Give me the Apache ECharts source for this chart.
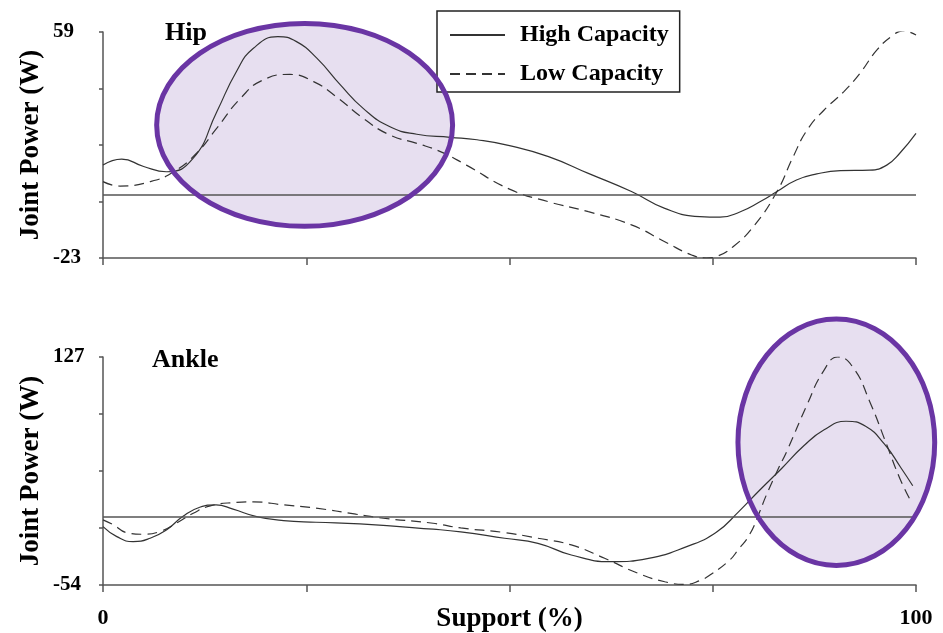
<!DOCTYPE html>
<html>
<head>
<meta charset="utf-8">
<script src="https://cdn.jsdelivr.net/npm/echarts@6/dist/echarts.min.js"></script>
<style>
  html, body { margin: 0; padding: 0; background: #fff; }
  #chart { width: 943px; height: 633px; }
</style>
</head>
<body>
<div id="chart"></div>
<script>
// ---- Data ----
const seriesNames = ['High Capacity', 'Low Capacity'];
const panelTitles = ['Hip', 'Ankle'];
const xTicks = [0, 25, 50, 75, 100];
const xTickLabels = [0, 100];

const hipRange = [-23, 59];
const hipTicks = [-23, -2.5, 18, 38.5, 59];
const hipTickLabels = [-23, 59];
const ankleRange = [-54, 127];
const ankleTicks = [-54, -8.75, 36.5, 81.75, 127];
const ankleTickLabels = [-54, 127];

const hipHigh = [[0,10.7],[2.3,12.9],[5,10.2],[7.8,8.3],[11.1,13.2],[14,30.1],[16.4,44.6],[18.5,53.1],[21.5,57.3],[23.8,55.5],[26.3,49.5],[29.2,39.8],[32,31.3],[35.3,24.6],[38.6,21.9],[42.7,20.8],[46,19.9],[50,17.8],[54.8,13.8],[59.7,7.7],[65,1.1],[69.1,-5.0],[73.4,-8.0],[75.9,-8.2],[78.4,-6.2],[80.8,-2.6],[82.9,1.1],[85.3,5.3],[87.8,7.5],[90.7,8.7],[94.3,8.9],[96.4,10.7],[98,15.0],[100,22.2]];
const hipLow = [[0,4.7],[2.1,3.1],[5.8,4.7],[8.7,8.3],[11.5,15.0],[14,24.1],[16.9,34.9],[19.7,41.6],[23,43.6],[25.9,41.0],[28.7,35.5],[32,27.7],[35.3,21.6],[38.6,18.6],[41.5,15.6],[44.7,10.7],[50,2.0],[54.8,-2.6],[59.7,-6.2],[65,-11.0],[69.1,-17.1],[72.4,-21.9],[74.2,-23],[75.6,-22.3],[77.5,-18.9],[80,-11.6],[82.9,1.1],[84.9,13.8],[86.6,23.4],[88.7,30.7],[91.1,37.3],[93.1,44.0],[95.2,52.5],[97.2,57.9],[98.4,59.4],[100,57.9]];
const ankleHigh = [[0,-7.7],[1.7,-15.6],[3.7,-19.6],[5.8,-16.9],[7.8,-10.3],[9.8,0.3],[11.9,7.7],[13.9,9.6],[16,6.2],[18.9,0.3],[22.2,-2.9],[26.2,-4.2],[31.6,-5.5],[40.6,-9.7],[44,-11.8],[49.4,-16.9],[53.5,-20.9],[57.6,-30.2],[62.5,-35.5],[67.1,-32.8],[71.8,-23.5],[75.4,-12.3],[78.2,4.3],[80.7,20.8],[83.5,38.7],[86.2,56.5],[88.7,69.2],[91.4,76.0],[93.8,72.0],[96.1,58.0],[98.1,39.5],[99.6,24.8]];
const ankleLow = [[0,-2.3],[1.3,-6.3],[2.9,-12.4],[4.9,-13.7],[7,-11.6],[9,-5.0],[11.1,3.0],[13.2,8.8],[16,11.4],[18.5,12.0],[22.2,9.6],[26.2,7.0],[31.1,2.2],[34.5,-1.0],[40.6,-5.0],[44,-8.7],[49.4,-12.4],[53.5,-16.9],[57.6,-22.2],[61.7,-32.8],[65.8,-44.7],[69.1,-51.4],[71.6,-53.5],[73.4,-50.5],[74.8,-45.5],[77.1,-34.1],[78.1,-26.2],[79.5,-14.3],[80.7,3.0],[81.6,17.5],[83.1,38.8],[84.1,52.0],[86.6,89.1],[88.6,115.6],[90.4,127],[92.3,118.3],[94.3,91.7],[96.4,57.3],[98,30.8],[99.4,12.2]];

// highlight ellipses in data units: [centerX, centerY, radiusX, radiusY]
const hipHighlight = [24.8, 25.3, 18.2, 36.8];
const ankleHighlight = [90.2, 59.3, 12.1, 97.8];

// ---- Chart ----
const FONT = '"Liberation Serif", "Times New Roman", serif';
const axisColor = '#555';
const chart = echarts.init(document.getElementById('chart'));

function yAxisFor(gridIndex, range, ticks, labels) {
  return {
    type: 'value', gridIndex: gridIndex, min: range[0], max: range[1],
    name: 'Joint Power (W)', nameLocation: 'middle', nameGap: 58, nameMoveOverlap: false,
    nameTextStyle: { fontFamily: FONT, fontWeight: 'bold', fontSize: 27, color: '#000' },
    axisLine: { show: true, lineStyle: { color: axisColor, width: 1.5 } },
    axisTick: { show: true, length: 4, customValues: ticks, lineStyle: { color: axisColor, width: 1.5 } },
    axisLabel: { customValues: labels, align: 'left', margin: 50, fontFamily: FONT, fontWeight: 'bold', fontSize: 21, color: '#000' },
    splitLine: { show: false }
  };
}
function xAxisFor(gridIndex, showLabels) {
  return {
    type: 'value', gridIndex: gridIndex, min: 0, max: 100,
    name: showLabels ? 'Support (%)' : '', nameLocation: 'middle', nameGap: 21, nameMoveOverlap: false,
    nameTextStyle: { fontFamily: FONT, fontWeight: 'bold', fontSize: 27, color: '#000', verticalAlign: 'top' },
    axisLine: { show: true, onZero: false, lineStyle: { color: axisColor, width: 1.5 } },
    axisTick: { show: true, length: 7, customValues: xTicks, lineStyle: { color: axisColor, width: 1.5 } },
    axisLabel: { show: showLabels, customValues: xTickLabels, margin: 22, fontFamily: FONT, fontWeight: 'bold', fontSize: 22, color: '#000', verticalAlign: 'top' },
    splitLine: { show: false }
  };
}
const zeroLine = {
  silent: true, symbol: ['none', 'none'], label: { show: false },
  lineStyle: { type: 'solid', color: axisColor, width: 1.5 },
  emphasis: { disabled: true },
  data: [{ yAxis: 0 }]
};
function lineSeries(name, data, xi, dashed, withZero) {
  const s = {
    name: name, type: 'line', xAxisIndex: xi, yAxisIndex: xi, data: data,
    smooth: 0.5, symbol: 'none', clip: true,
    lineStyle: { color: '#333', width: 1.2, type: dashed ? [10, 6] : 'solid' },
    itemStyle: { color: '#333' },
    emphasis: { disabled: true }
  };
  if (withZero) s.markLine = zeroLine;
  return s;
}

const option = {
  animation: false,
  backgroundColor: '#fff',
  title: [
    { text: panelTitles[0], left: 165, top: 20, padding: 0, textStyle: { fontFamily: FONT, fontWeight: 'bold', fontSize: 26, color: '#000' } },
    { text: panelTitles[1], left: 152, top: 347, padding: 0, textStyle: { fontFamily: FONT, fontWeight: 'bold', fontSize: 26, color: '#000' } }
  ],
  legend: {
    data: seriesNames, orient: 'vertical', left: 437, top: 11,
    padding: [12, 11, 6, 12], itemGap: 15, itemWidth: 55, itemHeight: 14,
    borderColor: '#222', borderWidth: 1.5, backgroundColor: '#fff',
    selectedMode: false,
    itemStyle: { opacity: 0, color: 'rgba(0,0,0,0)', borderWidth: 0 },
    textStyle: { fontFamily: FONT, fontWeight: 'bold', fontSize: 24, color: '#000', padding: [0, 0, 0, 10] }
  },
  grid: [
    { left: 103, top: 32, width: 813, height: 226, outerBoundsMode: 'none', containLabel: false },
    { left: 103, top: 357, width: 813, height: 228, outerBoundsMode: 'none', containLabel: false }
  ],
  xAxis: [xAxisFor(0, false), xAxisFor(1, true)],
  yAxis: [yAxisFor(0, hipRange, hipTicks, hipTickLabels), yAxisFor(1, ankleRange, ankleTicks, ankleTickLabels)],
  series: [
    lineSeries(seriesNames[0], hipHigh, 0, false, true),
    lineSeries(seriesNames[1], hipLow, 0, true, false),
    lineSeries(seriesNames[0], ankleHigh, 1, false, true),
    lineSeries(seriesNames[1], ankleLow, 1, true, false)
  ]
};
chart.setOption(option);

function ellipseShape(gridIndex, e) {
  const c = chart.convertToPixel({ gridIndex: gridIndex }, [e[0], e[1]]);
  const p = chart.convertToPixel({ gridIndex: gridIndex }, [e[0] + e[2], e[1] + e[3]]);
  return { cx: c[0], cy: c[1], rx: Math.abs(p[0] - c[0]), ry: Math.abs(c[1] - p[1]) };
}
const s1 = ellipseShape(0, hipHighlight);
const s2 = ellipseShape(1, ankleHighlight);
const fill = '#e7dff0', stroke = '#6a35a4';
chart.setOption({
  graphic: [
    { type: 'ellipse', shape: s1, z: -10, silent: true, style: { fill: fill, stroke: null } },
    { type: 'ellipse', shape: s2, z: -10, silent: true, style: { fill: fill, stroke: null } },
    { type: 'ellipse', shape: s1, z: 100, silent: true, style: { fill: null, stroke: stroke, lineWidth: 5 } },
    { type: 'ellipse', shape: s2, z: 100, silent: true, style: { fill: null, stroke: stroke, lineWidth: 5 } }
  ]
});
</script>
</body>
</html>
